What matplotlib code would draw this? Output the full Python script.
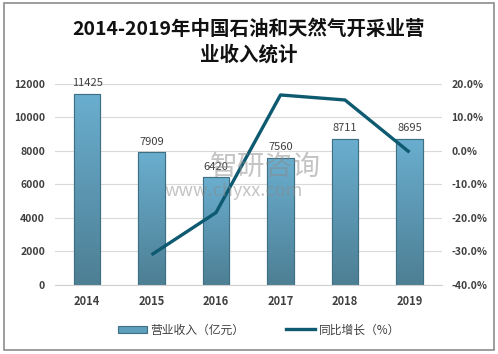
import matplotlib
matplotlib.use("Agg")
import matplotlib.pyplot as plt
import numpy as np
from matplotlib.patches import Rectangle
from matplotlib.colors import LinearSegmentedColormap
from matplotlib.lines import Line2D
from matplotlib.patches import Patch

plt.rcParams['font.family'] = ['Noto Sans CJK SC', 'DejaVu Sans']

years = ['2014', '2015', '2016', '2017', '2018', '2019']
revenue = [11425, 7909, 6420, 7560, 8711, 8695]
growth_years = ['2015', '2016', '2017', '2018', '2019']
growth = [-31.0, -18.4, 16.7, 15.2, -0.4]

title = '2014-2019年中国石油和天然气开采业营\n业收入统计'
bar_label = '营业收入（亿元）'
line_label = '同比增长（%）'

fig = plt.figure(figsize=(4.98, 3.54), dpi=100)
fig.patch.set_facecolor('white')
fig.patches.append(Rectangle((0.008, 0.01), 0.984, 0.982, transform=fig.transFigure,
                             fill=False, edgecolor='#8c8c8c', linewidth=1.2))

ax = fig.add_axes([0.110, 0.195, 0.777, 0.568])
x = np.arange(len(years))
bars = ax.bar(x, revenue, width=0.41, color='#5e9fbd', edgecolor='#3f6f83', linewidth=0.8, zorder=2)
ax.set_xlim(-0.5, len(years) - 0.5)
ax.set_ylim(0, 12000)
ax.set_yticks(np.arange(0, 12001, 2000))
ax.set_xticks(x)
ax.set_xticklabels(years, fontsize=8, fontweight='bold', color='#404040')
ax.tick_params(axis='y', labelsize=7.5, colors='#404040', length=0, pad=7)
ax.tick_params(axis='x', length=0, pad=7)
for lab in ax.get_yticklabels():
    lab.set_fontweight('bold')
ax.grid(axis='y', color='#d9d9d9', linewidth=0.8, zorder=0)
ax.set_axisbelow(True)
for s in ['top', 'right', 'left']:
    ax.spines[s].set_visible(False)
ax.spines['bottom'].set_color('#d0d0d0')

cmap = LinearSegmentedColormap.from_list('g', ['#4d7f94', '#6aaecf'])
grad = np.linspace(0, 1, 256).reshape(-1, 1)
for b in bars:
    x0 = b.get_x(); w = b.get_width(); h = b.get_height()
    im = ax.imshow(grad, extent=[x0, x0 + w, 0, h], origin='lower', cmap=cmap,
                   aspect='auto', zorder=2.1)
    im.set_clip_path(b)
    ax.add_patch(Rectangle((x0, 0), w, h, fill=False, edgecolor='#3f6f83', linewidth=0.8, zorder=2.2))
ax.set_xlim(-0.5, len(years) - 0.5)
ax.set_ylim(0, 12000)

for xi, v in zip(x, revenue):
    ax.text(xi, v + 350, str(v), ha='center', va='bottom', fontsize=8, color='#404040', zorder=5)

ax2 = ax.twinx()
gx = [years.index(y) for y in growth_years]
ax2.plot(gx, growth, color='#0e5a70', linewidth=2.4, zorder=4, solid_capstyle='butt')
ax2.set_ylim(-40, 20)
ax2.set_yticks(np.arange(-40, 21, 10))
ax2.set_yticklabels([f'{v:.1f}%' for v in np.arange(-40, 21, 10)])
ax2.tick_params(axis='y', labelsize=7.5, colors='#404040', length=0, pad=7)
for lab in ax2.get_yticklabels():
    lab.set_fontweight('bold')
for s in ax2.spines.values():
    s.set_visible(False)

fig.text(0.5, 0.945, title, ha='center', va='top', fontsize=14, fontweight='bold',
         color='#111111', linespacing=1.35)

# watermark
fig.text(0.422, 0.528, '智研咨询', fontsize=20, color='#8a8a8a', alpha=0.5, ha='left', va='center', zorder=10)
fig.text(0.33, 0.46, 'www.chyxx.com', fontsize=13, color='#8a8a8a', alpha=0.5,
         ha='left', va='center', zorder=10)

handles = [Patch(facecolor='#5e9fbd', edgecolor='#3f6f83', linewidth=0.8),
           Line2D([0], [0], color='#0e5a70', linewidth=2.4)]
fig.legend(handles, [bar_label, line_label], loc='center', bbox_to_anchor=(0.52, 0.068),
           ncol=2, frameon=False, fontsize=8.5, handlelength=2.5, handleheight=0.6,
           columnspacing=3.5, handletextpad=0.3, labelcolor='#404040')

fig.savefig('out.png', dpi=100)
